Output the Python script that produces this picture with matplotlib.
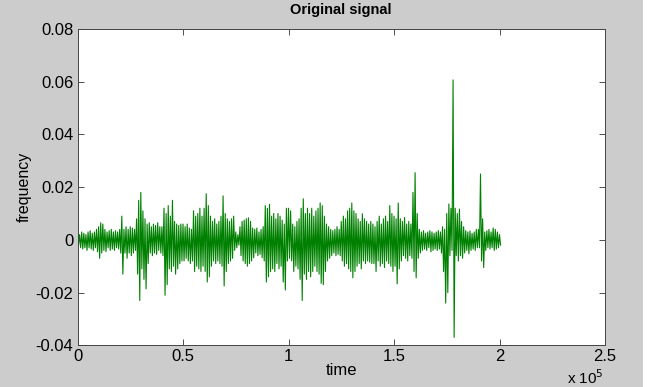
import numpy as np
import matplotlib
matplotlib.use("Agg")
import matplotlib.pyplot as plt
from matplotlib.ticker import FuncFormatter
from matplotlib.patches import Rectangle

# ---- data: per-1000-sample upper / lower envelope of the signal ----
sample_step = 1000
signal_hi = [
    0.003, 0.002, 0.003, 0.0025, 0.002, 0.003, 0.0035, 0.0025, 0.003, 0.004,
    0.005, 0.0065, 0.006, 0.004, 0.003, 0.0035, 0.004, 0.003, 0.0035, 0.003,
    0.004, 0.009, 0.004, 0.005, 0.004, 0.005, 0.0045, 0.004, 0.008, 0.015,
    0.018, 0.011, 0.008, 0.006, 0.0065, 0.005, 0.006, 0.0055, 0.0065, 0.005,
    0.005, 0.012, 0.01, 0.013, 0.009, 0.015, 0.007, 0.006, 0.0055, 0.006,
    0.006, 0.005, 0.006, 0.0045, 0.004, 0.011, 0.009, 0.01, 0.012, 0.009,
    0.012, 0.0175, 0.013, 0.009, 0.007, 0.008, 0.006, 0.007, 0.009, 0.0167,
    0.01, 0.008, 0.007, 0.008, 0.009, 0.003, 0.002, 0.005, 0.007, 0.0075,
    0.008, 0.0084, 0.007, 0.0045, 0.004, 0.0045, 0.003, 0.004, 0.005, 0.013,
    0.012, 0.0135, 0.009, 0.01, 0.008, 0.01, 0.009, 0.0075, 0.006, 0.012,
    0.012, 0.011, 0.006, 0.005, 0.007, 0.008, 0.012, 0.0156, 0.01, 0.012,
    0.01, 0.012, 0.009, 0.011, 0.012, 0.014, 0.013, 0.009, 0.006, 0.005,
    0.004, 0.0035, 0.004, 0.005, 0.004, 0.007, 0.009, 0.008, 0.011, 0.012,
    0.014, 0.011, 0.01, 0.008, 0.007, 0.0099, 0.008, 0.007, 0.006, 0.007,
    0.006, 0.005, 0.007, 0.009, 0.006, 0.008, 0.009, 0.007, 0.013, 0.01,
    0.009, 0.008, 0.014, 0.008, 0.007, 0.0085, 0.006, 0.007, 0.006, 0.018,
    0.0255, 0.01, 0.004, 0.003, 0.0035, 0.0025, 0.003, 0.0035, 0.003, 0.0025,
    0.003, 0.0035, 0.003, 0.005, 0.004, 0.01, 0.0136, 0.012, 0.0607, 0.012,
    0.01, 0.0117, 0.007, 0.005, 0.0035, 0.003, 0.0034, 0.0025, 0.003, 0.004,
    0.004, 0.025, 0.008, 0.003, 0.0035, 0.004, 0.003, 0.0045, 0.004, 0.003,
    0.002,
]
signal_lo = [
    -0.002, -0.003, -0.0035, -0.003, -0.004, -0.003, -0.0035, -0.004, -0.003, -0.0045,
    -0.007, -0.005, -0.004, -0.0045, -0.003, -0.004, -0.0035, -0.004, -0.003, -0.0035,
    -0.005, -0.013, -0.005, -0.007, -0.005, -0.006, -0.005, -0.004, -0.013, -0.023,
    -0.011, -0.015, -0.0186, -0.009, -0.005, -0.006, -0.005, -0.0055, -0.004, -0.005,
    -0.006, -0.021, -0.017, -0.011, -0.012, -0.01, -0.013, -0.011, -0.009, -0.008,
    -0.008, -0.007, -0.008, -0.009, -0.008, -0.012, -0.01, -0.011, -0.012, -0.01,
    -0.012, -0.016, -0.014, -0.01, -0.008, -0.009, -0.008, -0.009, -0.01, -0.0175,
    -0.012, -0.009, -0.008, -0.007, -0.004, -0.003, -0.002, -0.006, -0.008, -0.009,
    -0.01, -0.009, -0.008, -0.0068, -0.005, -0.006, -0.0055, -0.0068, -0.008, -0.016,
    -0.014, -0.012, -0.011, -0.012, -0.009, -0.011, -0.01, -0.016, -0.019, -0.008,
    -0.007, -0.008, -0.012, -0.01, -0.011, -0.015, -0.023, -0.013, -0.015, -0.012,
    -0.014, -0.012, -0.01, -0.012, -0.013, -0.0165, -0.017, -0.012, -0.008, -0.007,
    -0.006, -0.005, -0.006, -0.0055, -0.006, -0.008, -0.01, -0.009, -0.011, -0.012,
    -0.0144, -0.012, -0.01, -0.009, -0.011, -0.008, -0.009, -0.008, -0.0085, -0.009,
    -0.009, -0.012, -0.008, -0.01, -0.009, -0.0105, -0.008, -0.009, -0.01, -0.012,
    -0.01, -0.0167, -0.011, -0.008, -0.006, -0.007, -0.008, -0.006, -0.007, -0.012,
    -0.0144, -0.007, -0.005, -0.004, -0.0035, -0.004, -0.003, -0.0045, -0.004, -0.0035,
    -0.004, -0.0035, -0.005, -0.012, -0.024, -0.02, -0.006, -0.004, -0.037, -0.006,
    -0.008, -0.006, -0.007, -0.005, -0.004, -0.0053, -0.004, -0.0035, -0.004, -0.003,
    -0.003, -0.008, -0.0105, -0.004, -0.003, -0.0035, -0.003, -0.004, -0.0035, -0.003,
    -0.002,
]
x_ticks = [0, 50000, 100000, 150000, 200000, 250000]
y_ticks = [-0.04, -0.02, 0, 0.02, 0.04, 0.06, 0.08]
title_text = "Original signal"
x_label = "time"
y_label = "frequency"

# ---- build the trace: alternate upper/lower envelope values within each step ----
hi = np.asarray(signal_hi)
lo = np.asarray(signal_lo)
n = len(hi)
t0 = np.arange(n) * sample_step
tt = np.empty(2 * n)
yy = np.empty(2 * n)
tt[0::2] = t0
tt[1::2] = t0 + sample_step / 2
yy[0::2] = hi
yy[1::2] = lo

plt.rcParams['font.family'] = ['Liberation Sans', 'DejaVu Sans']

W, H = 650, 387
fig = plt.figure(figsize=(W / 100, H / 100), dpi=100, facecolor='#cccccc')
fig.patches.append(Rectangle((643 / W, 0), 1, 1, transform=fig.transFigure,
                             facecolor='white', edgecolor='none', zorder=0))

left, right, top, bottom = 77.5, 605, 29, 345.3
ax = fig.add_axes([left / W, 1 - bottom / H, (right - left) / W, (bottom - top) / H])
ax.set_facecolor('white')

ax.plot(tt, yy, color='#008000', linewidth=0.8, antialiased=True)

ax.set_xlim(0, 250000)
ax.set_ylim(-0.04, 0.08)
ax.set_xticks(x_ticks)
ax.set_yticks(y_ticks)
ax.xaxis.set_major_formatter(FuncFormatter(lambda v, p: f"{v / 1e5:g}"))
ax.yaxis.set_major_formatter(FuncFormatter(lambda v, p: f"{v:g}"))

ax.tick_params(direction='in', length=4.5, width=0.6, colors='#333333',
               labelcolor='black', labelsize=12, top=True, right=True, pad=3)
for s in ax.spines.values():
    s.set_linewidth(0.7)
    s.set_color('#444444')

ax.set_title(title_text, fontsize=10.5, fontweight='bold', pad=11)
ax.set_xlabel(x_label, fontsize=12, labelpad=-1)
ax.set_ylabel(y_label, fontsize=11.5, labelpad=3)
fig.text(567 / W, 1 - 378 / H, r"x 10$^5$", fontsize=11, ha='left', va='center')

fig.savefig("out.png", dpi=100, facecolor=fig.get_facecolor())
